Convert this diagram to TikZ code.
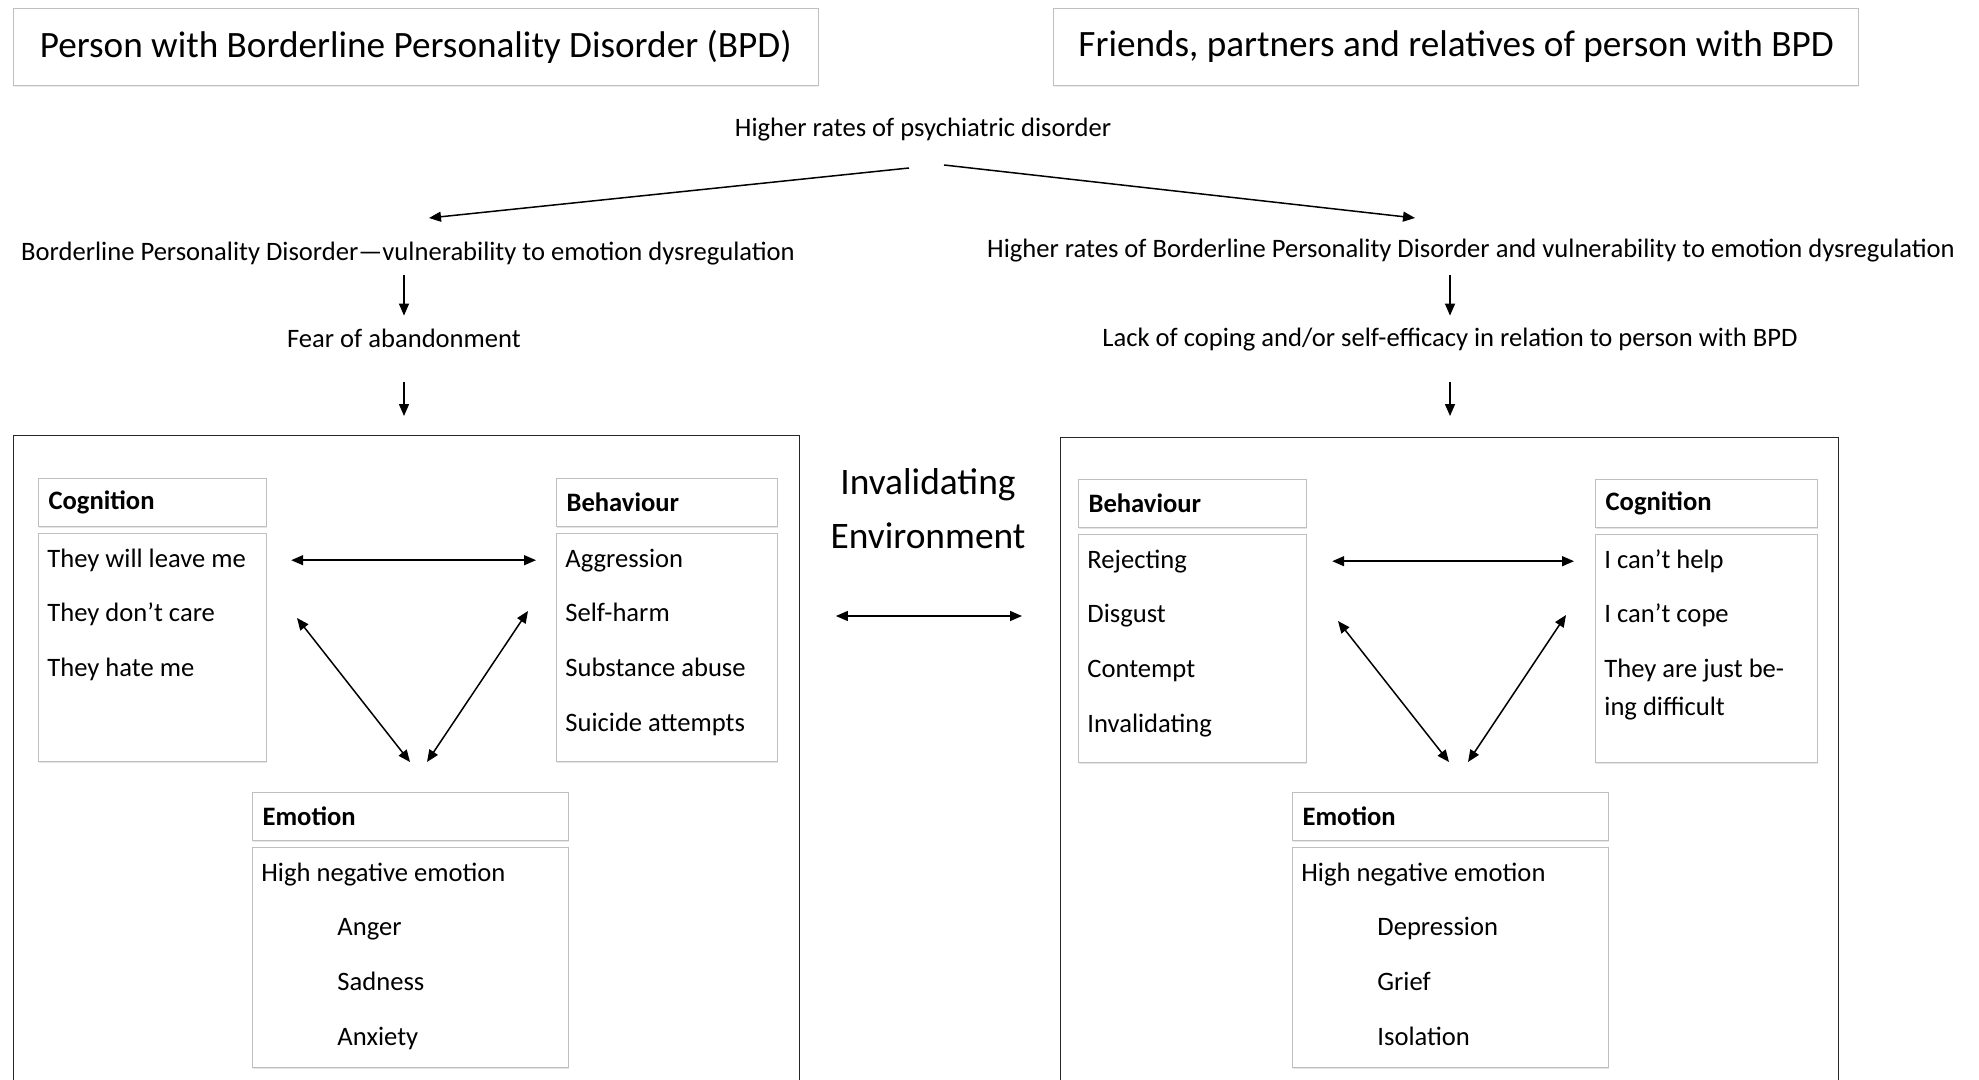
\documentclass[tikz,border=0pt]{standalone}
\usepackage{fontspec}
\setmainfont{Carlito}
\usepackage{tikz}
\usetikzlibrary{positioning,arrows.meta,shadows}
\newcommand{\bodyfont}{\fontsize{13.3}{16}\selectfont}
\newcommand{\titlefont}{\fontsize{18.6}{22}\selectfont}
\tikzset{
  titlebox/.style ={draw=black!25, fill=white, line width=0.6pt, font=\titlefont, anchor=north west,
                    minimum width=402.5pt, minimum height=38.5pt,
                    drop shadow={opacity=0.15,shadow xshift=0pt,shadow yshift=-0.8pt}},
  panel/.style    ={draw=black!85, line width=0.65pt, anchor=north west, inner sep=0pt},
  tagbox/.style   ={draw=black!25, fill=white, line width=0.6pt, font=\bodyfont\bfseries, anchor=north west,
                    text width=#1, align=left, inner xsep=5pt, minimum height=24pt,
                    drop shadow={opacity=0.2,shadow xshift=0pt,shadow yshift=-0.8pt}},
  tagbox/.default=104pt,
  listbox/.style  ={draw=black!25, fill=white, line width=0.6pt, inner sep=0pt,
                    minimum width=114pt, minimum height=114pt,
                    drop shadow={opacity=0.2,shadow xshift=0pt,shadow yshift=-0.8pt}},
  lbl/.style      ={font=\bodyfont, text height=10pt, text depth=3pt, inner sep=2pt},
  item/.style     ={lbl, anchor=west},
  arr/.style      ={-{Triangle[length=6pt,width=5pt]}, line width=0.75pt},
  dblarr/.style   ={{Triangle[length=6pt,width=5pt]}-{Triangle[length=6pt,width=5pt]}, line width=0.75pt},
}
\begin{document}
\begin{tikzpicture}[x=0.5pt,y=-0.5pt]
\path[use as bounding box, fill=white] (0,0) rectangle (1979,1080);
\clip (0,0) rectangle (1979,1080);

% titles
\node[titlebox] (hdrL) at (12.6,7.6) {Person with Borderline Personality Disorder (BPD)};
\node[titlebox] (hdrR) at (1053,7.6) {Friends, partners and relatives of person with BPD};

% shared origin and the two paths
\node[lbl] (psy) at (923,130) {Higher rates of psychiatric disorder};
\node[lbl] (bpdL) at (408,254) {Borderline Personality Disorder—vulnerability to emotion dysregulation};
\node[lbl] (bpdR) at (1471,251) {Higher rates of Borderline Personality Disorder and vulnerability to emotion dysregulation};
\node[lbl] (fear) at (404,341) {Fear of abandonment};
\node[lbl] (cope) at (1450,340) {Lack of coping and/or self-efficacy in relation to person with BPD};

\coordinate (psyL) at (909,168);
\coordinate (psyR) at (944,165);
\coordinate (bpdLtip) at (429,218);
\coordinate (bpdRtip) at (1415,218);
\draw[arr] (psyL) -- (bpdLtip);
\draw[arr] (psyR) -- (bpdRtip);

% panels
\node[panel, minimum width=393pt, minimum height=340pt] (panelL) at (12.6,435) {};
\node[panel, minimum width=389pt, minimum height=340pt] (panelR) at (1060,437) {};

\draw[arr, shorten <=2pt, shorten >=4pt] (bpdL.south -| fear) -- (fear.north);
\draw[arr, shorten <=12pt, shorten >=9.5pt] (fear.south) -- (fear.south |- panelL.north);
\draw[arr, shorten <=3.5pt, shorten >=3.5pt] (bpdR.south -| cope) -- (cope.north);
\draw[arr, shorten <=12.5pt, shorten >=10.5pt] (cope.south) -- (cope.south |- panelR.north);

% invalidating environment
\node[font=\fontsize{18.7}{27}\selectfont, align=center] (env) at (928,509) {Invalidating\\Environment};
\coordinate (envrow) at (928,616);
\draw[dblarr, shorten <=18pt, shorten >=19pt] (panelL.east |- envrow) -- (panelR.west |- envrow);

% person with BPD
\node[tagbox] (cogHdL) at (38,478) {Cognition};
\node[listbox, below=3pt of cogHdL] (cogL) {};
\node[tagbox=100.5pt] (behHdL) at (556,478) {Behaviour};
\node[listbox, minimum width=110.5pt, below=3pt of behHdL] (behL) {};
\node[tagbox=148pt] (emoHdL) at (252,792) {Emotion};
\node[listbox, minimum width=158pt, minimum height=110pt, below=3pt of emoHdL] (emoL) {};

\foreach \t [count=\i] in {They will leave me, They don’t care, They hate me}
  \node[item] (cogL\i) at ([xshift=2.5pt, yshift={-13.5pt-(\i-1)*27.3pt}]cogL.north west) {\t};
\foreach \t [count=\i] in {Aggression, Self-harm, Substance abuse, Suicide attempts}
  \node[item] (behL\i) at ([xshift=2.5pt, yshift={-13.5pt-(\i-1)*27.3pt}]behL.north west) {\t};
\node[item] (emoL0) at ([xshift=2.5pt, yshift=-13.5pt]emoL.north west) {High negative emotion};
\foreach \t [count=\i] in {Anger, Sadness, Anxiety}
  \node[item] (emoL\i) at ([xshift=40.5pt, yshift={-13.5pt-\i*27.3pt}]emoL.north west) {\t};

\draw[dblarr, shorten <=12pt, shorten >=10pt] (cogL.east |- cogL1) -- (behL.west |- cogL1);
\coordinate (dL1) at (297,618);
\coordinate (dL2) at (410,762);
\coordinate (dL3) at (528,611);
\coordinate (dL4) at (427,762);
\draw[dblarr] (dL1) -- (dL2);
\draw[dblarr] (dL3) -- (dL4);

% friends, partners, relatives
\node[tagbox] (behHdR) at (1078,479) {Behaviour};
\node[listbox, below=3pt of behHdR] (behR) {};
\node[tagbox=101pt] (cogHdR) at (1595,479) {Cognition};
\node[listbox, minimum width=111pt, below=3pt of cogHdR] (cogR) {};
\node[tagbox=148pt] (emoHdR) at (1292,792) {Emotion};
\node[listbox, minimum width=158pt, minimum height=110pt, below=3pt of emoHdR] (emoR) {};

\foreach \t [count=\i] in {Rejecting, Disgust, Contempt, Invalidating}
  \node[item] (behR\i) at ([xshift=2.5pt, yshift={-13.5pt-(\i-1)*27.3pt}]behR.north west) {\t};
\foreach \t [count=\i] in {I can’t help, I can’t cope}
  \node[item] (cogR\i) at ([xshift=2.5pt, yshift={-13.5pt-(\i-1)*27.3pt}]cogR.north west) {\t};
\node[item, align=left, font=\fontsize{13.3}{19}\selectfont] (cogR3) at ([xshift=2.5pt, yshift=-87.1pt]cogR.north west) {They are just be-\\ing difficult};
\node[item] (emoR0) at ([xshift=2.5pt, yshift=-13.5pt]emoR.north west) {High negative emotion};
\foreach \t [count=\i] in {Depression, Grief, Isolation}
  \node[item] (emoR\i) at ([xshift=40.5pt, yshift={-13.5pt-\i*27.3pt}]emoR.north west) {\t};

\draw[dblarr, shorten <=12.5pt, shorten >=10.5pt] (behR.east |- behR1) -- (cogR.west |- behR1);
\coordinate (dR1) at (1338,621);
\coordinate (dR2) at (1449,762);
\coordinate (dR3) at (1566,615);
\coordinate (dR4) at (1468,762);
\draw[dblarr] (dR1) -- (dR2);
\draw[dblarr] (dR3) -- (dR4);
\end{tikzpicture}
\end{document}
